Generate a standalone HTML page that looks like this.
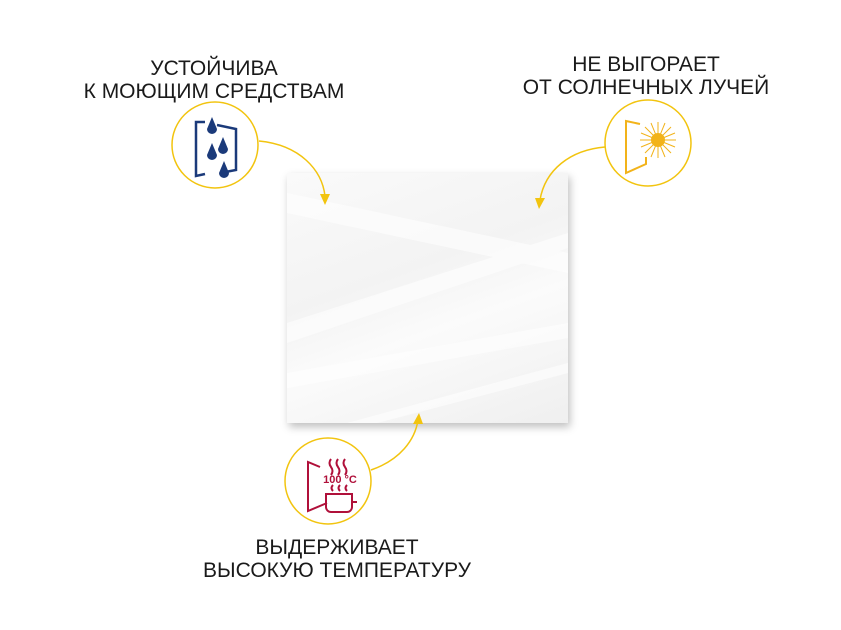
<!DOCTYPE html>
<html><head><meta charset="utf-8"><style>
body{margin:0;background:#fff;width:841px;height:630px;overflow:hidden;position:relative;font-family:"Liberation Sans",sans-serif}
.t{position:absolute;text-align:center;font-size:21px;line-height:23px;color:#1a1a1a;width:400px}
.panel{position:absolute;left:287px;top:173px;width:281px;height:250px;background:linear-gradient(160deg,#fafafa,#f3f3f3 40%,#fbfbfb 60%,#efefef);box-shadow:2px 4px 8px rgba(0,0,0,.25)}
</style></head><body>
<div class="panel"><svg width="281" height="250"><g fill="#fff" opacity=".6">
<polygon points="0,20 281,80 281,100 0,40"/><polygon points="0,150 281,60 281,75 0,170"/><polygon points="0,200 281,150 281,165 0,215"/><polygon points="60,250 281,190 281,200 90,250"/></g></svg></div>
<div class="t" style="left:14px;top:57px">УСТОЙЧИВА<br>К МОЮЩИМ СРЕДСТВАМ</div>
<div class="t" style="left:446px;top:53px">НЕ ВЫГОРАЕТ<br>ОТ СОЛНЕЧНЫХ ЛУЧЕЙ</div>
<div class="t" style="left:137px;top:536px">ВЫДЕРЖИВАЕТ<br>ВЫСОКУЮ ТЕМПЕРАТУРУ</div>
<svg width="841" height="630" style="position:absolute;left:0;top:0">
<g fill="none" stroke="#f2c40f" stroke-width="1.5">
<circle cx="215" cy="145" r="43"/><circle cx="648" cy="143" r="43"/><circle cx="328" cy="481" r="43"/>
<path d="M259,141 C300,145 322,170 325,196"/>
<path d="M605,147 C570,150 545,170 540,200"/>
<path d="M371,470 C400,460 415,440 418,420"/>
</g>
<g fill="#f2c40f"><polygon points="320,194 330,194 325,205"/><polygon points="535,198 545,198 539,209"/><polygon points="413,424 423,424 419,413"/></g>
<g fill="none" stroke="#1b3a7a" stroke-width="2.5"><path d="M205,122 L196,122 L196,176 L205,174"/><path d="M217,125 L236,129 L236,170 L220,173"/></g>
<g fill="#1b3a7a"><path d="M212,117 l-5,12 a5,5 0 0 0 10,0z"/><path d="M223,137 l-5,12 a5,5 0 0 0 10,0z"/><path d="M212,143 l-5,12 a5,5 0 0 0 10,0z"/><path d="M224,161 l-5,12 a5,5 0 0 0 10,0z"/></g>
<path d="M640,124 L626,121 L626,173 L646,164 L646,157" fill="none" stroke="#f2b31a" stroke-width="2"/>
<circle cx="658" cy="140" r="7" fill="#f2b31a"/>
<g stroke="#f2b31a" stroke-width="1"><path d="M658,122v36M640,140h36M645,127l26,26M671,127l-26,26M651,123l14,34M665,123l-14,34M641,133l34,14M675,133l-34,14"/></g>
<g fill="none" stroke="#b0103a" stroke-width="2"><path d="M320,467 L308,462 L308,511 L327,503"/>
<path d="M326,494 h26 v13 a5,5 0 0 1 -5,5 h-16 a5,5 0 0 1 -5,-5z M352,502 h5"/>
<path d="M331,459 q-3,4 0,8 q3,4 0,8 M338,459 q-3,4 0,8 q3,4 0,8 M345,459 q-3,4 0,8 q3,4 0,8 M333,485 q-3,3 0,6 M340,485 q-3,3 0,6 M347,485 q-3,3 0,6"/></g>
<text x="340" y="483" font-size="11" font-weight="bold" fill="#b0103a" text-anchor="middle" font-family="Liberation Sans">100 °C</text>
</svg>
</body></html>
